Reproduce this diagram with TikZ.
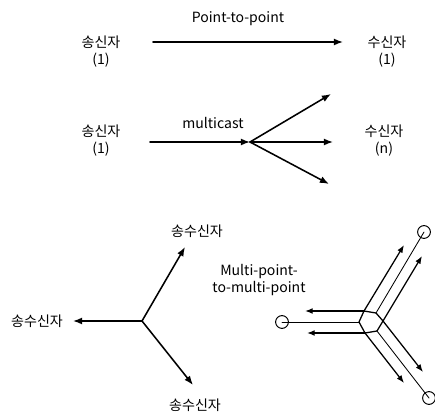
\documentclass[tikz,border=0pt]{standalone}
\usepackage{fontspec}
\setmainfont{Noto Sans CJK KR}
\usepackage{tikz}
\usetikzlibrary{arrows.meta, calc}
\usepackage{tkz-euclide}
\tikzset{
  arr/.style={black, line width=1.1pt, -{Latex[length=6.5pt,width=5pt]}},
  arrs/.style={black, line width=0.9pt, -{Latex[length=5.5pt,width=4.2pt]}},
  thinline/.style={black, line width=0.6pt},
  hub/.style={black, line width=0.9pt},
  port/.style={circle, draw, line width=0.7pt, minimum size=0.32cm, inner sep=0pt},
  lbl/.style={align=center}
}
\begin{document}
\begin{tikzpicture}[x=0.025cm, y=-0.025cm, font=\fontsize{10}{12}\selectfont]
                \useasboundingbox (0,0) rectangle (435,413);
                \tkzDefPoints{153/42/A, 343/42/B, 150/142/M, 250/142/N, 331/94/N1, 333/142/N2, 329/184/N3}
                \tkzDefPoints{142/321/J, 73/321/J1, 185/247/J2, 193/385/J3}
                \tkzDefPoints{359/322/TL, 364/311/PLU, 376/313/TU, 383/321/PUD, 377/331/TD, 365/333/PDL}
                \tkzDefPoints{305/311/L1, 307/333/L2, 404/245/U1, 422/256/U2, 423/372/D1, 404/383/D2}
                \tkzDrawSegments[arr](A,B M,N N,N1 N,N2 N,N3 J,J1 J,J2 J,J3)
                \tkzDrawSegments[arrs](PLU,L1 PDL,L2 PLU,U1 PUD,U2 PUD,D1 PDL,D2)
                \tkzDrawPolygon[hub](TL,PLU,TU,PUD,TD,PDL)
                \node[port] (cL) at (282,322) {};
                \node[port] (cU) at (424,232) {};
                \node[port] (cD) at (429,398) {};
                \tkzDrawSegments[thinline](TL,cL TU,cU TD,cD)
                \node (pp) at (238,19) {Point-to-point};
                \node[lbl] (s1) at (101,52) {송신자\\(1)};
                \node[lbl] (r1) at (387,52) {수신자\\(1)};
                \node (mc) at (213,123) {multicast};
                \node[lbl] (s2) at (101,141) {송신자\\(1)};
                \node[lbl] (r2) at (384,141) {수신자\\(n)};
                \node (trxL) at (37,321) {송수신자};
                \node (trxU) at (197,231) {송수신자};
                \node (trxD) at (195,405) {송수신자};
                \node[lbl] (mp) at (259,280) {Multi-point-\\to-multi-point};
            \end{tikzpicture}
\end{document}
